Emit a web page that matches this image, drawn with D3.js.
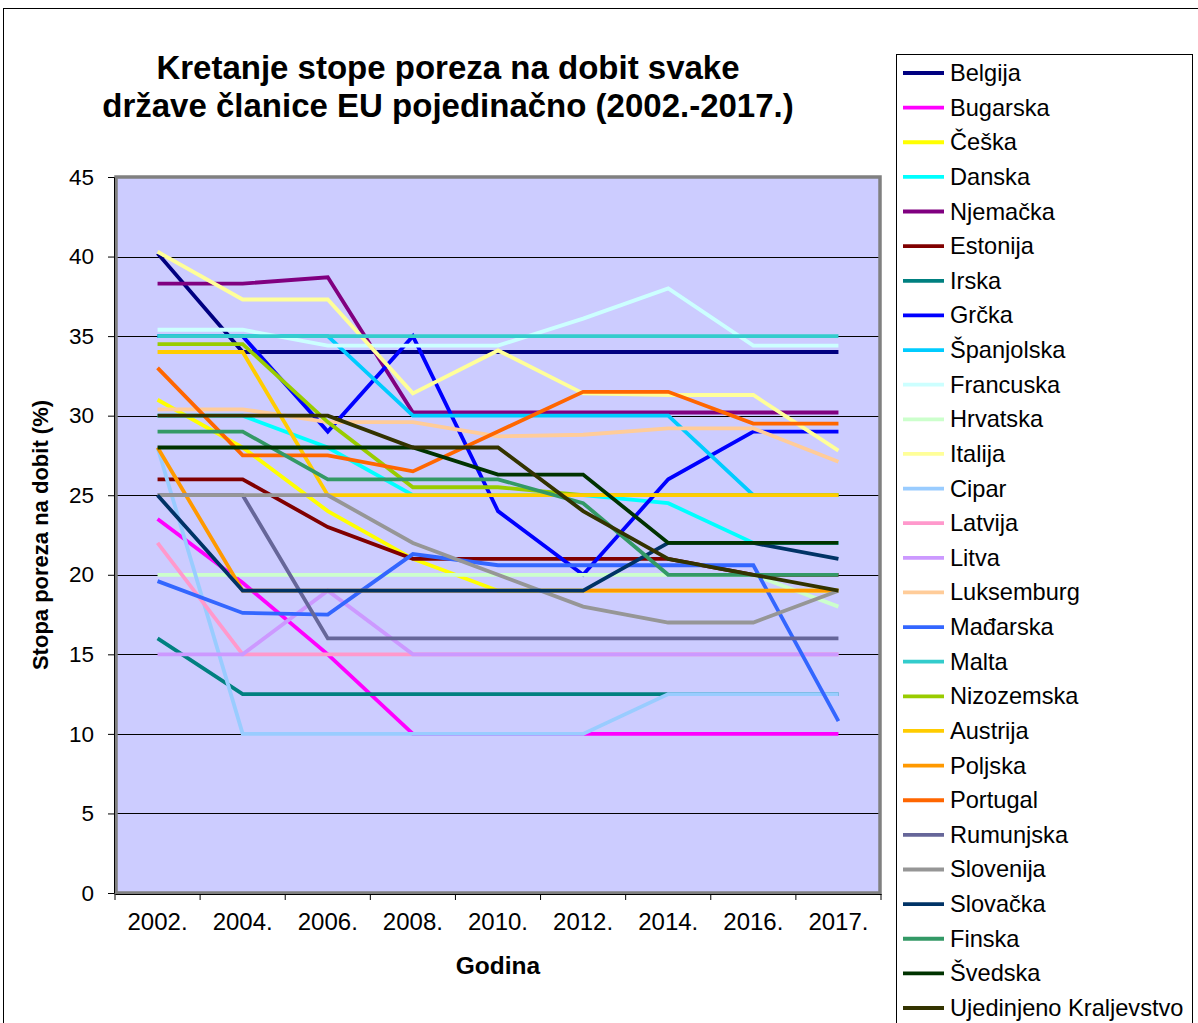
<!DOCTYPE html>
<html>
<head>
<meta charset="utf-8">
<script src="https://cdn.jsdelivr.net/npm/d3@7"></script>
<style>
  body { margin: 0; background: #fff; }
  svg { font-family: "Liberation Sans", Arial, sans-serif; }
</style>
</head>
<body>
<div id="chart"></div>
<script>
const years = ["2002.", "2004.", "2006.", "2008.", "2010.", "2012.", "2014.", "2016.", "2017."];
const yTicks = [0, 5, 10, 15, 20, 25, 30, 35, 40, 45];

const countries = ["Belgija", "Bugarska", "Češka", "Danska", "Njemačka", "Estonija", "Irska", "Grčka",
  "Španjolska", "Francuska", "Hrvatska", "Italija", "Cipar", "Latvija", "Litva", "Luksemburg",
  "Mađarska", "Malta", "Nizozemska", "Austrija", "Poljska", "Portugal", "Rumunjska", "Slovenija",
  "Slovačka", "Finska", "Švedska", "Ujedinjeno Kraljevstvo"];

const colors = ["#000080", "#FF00FF", "#FFFF00", "#00FFFF", "#800080", "#800000", "#008080", "#0000FF",
  "#00CCFF", "#CCFFFF", "#CCFFCC", "#FFFF99", "#99CCFF", "#FF99CC", "#CC99FF", "#FFCC99",
  "#3366FF", "#33CCCC", "#99CC00", "#FFCC00", "#FF9900", "#FF6600", "#666699", "#969696",
  "#003366", "#339966", "#003300", "#333300"];

const belgija = [40.2, 34, 34, 34, 34, 34, 34, 34, 34];
const bugarska = [23.5, 19.5, 15, 10, 10, 10, 10, 10, 10];
const ceska = [31, 28, 24, 21, 19, 19, 19, 19, 19];
const danska = [30, 30, 28, 25, 25, 25, 24.5, 22, 22];
const njemacka = [38.3, 38.3, 38.7, 30.2, 30.2, 30.2, 30.2, 30.2, 30.2];
const estonija = [26, 26, 23, 21, 21, 21, 21, 20, 20];
const irska = [16, 12.5, 12.5, 12.5, 12.5, 12.5, 12.5, 12.5, 12.5];
const grcka = [35, 35, 29, 35, 24, 20, 26, 29, 29];
const spanjolska = [35, 35, 35, 30, 30, 30, 30, 25, 25];
const francuska = [35.4, 35.4, 34.4, 34.4, 34.4, 36.1, 38, 34.4, 34.4];
const hrvatska = [20, 20, 20, 20, 20, 20, 20, 20, 18];
const italija = [40.3, 37.3, 37.3, 31.4, 34.1, 31.4, 31.3, 31.3, 27.8];
const cipar = [28, 10, 10, 10, 10, 10, 12.5, 12.5, 12.5];
const latvija = [22, 15, 15, 15, 15, 15, 15, 15, 15];
const litva = [15, 15, 19, 15, 15, 15, 15, 15, 15];
const luksemburg = [30.4, 30.4, 29.6, 29.6, 28.7, 28.8, 29.2, 29.2, 27.1];
const madjarska = [19.6, 17.6, 17.5, 21.3, 20.6, 20.6, 20.6, 20.6, 10.8];
const malta = [35, 35, 35, 35, 35, 35, 35, 35, 35];
const nizozemska = [34.5, 34.5, 29.6, 25.5, 25.5, 25, 25, 25, 25];
const austrija = [34, 34, 25, 25, 25, 25, 25, 25, 25];
const poljska = [28, 19, 19, 19, 19, 19, 19, 19, 19];
const portugal = [33, 27.5, 27.5, 26.5, 29, 31.5, 31.5, 29.5, 29.5];
const rumunjska = [25, 25, 16, 16, 16, 16, 16, 16, 16];
const slovenija = [25, 25, 25, 22, 20, 18, 17, 17, 19];
const slovacka = [25, 19, 19, 19, 19, 19, 22, 22, 21];
const finska = [29, 29, 26, 26, 26, 24.5, 20, 20, 20];
const svedska = [28, 28, 28, 28, 26.3, 26.3, 22, 22, 22];
const ujedinjeno = [30, 30, 30, 28, 28, 24, 21, 20, 19];

const values = [belgija, bugarska, ceska, danska, njemacka, estonija, irska, grcka,
  spanjolska, francuska, hrvatska, italija, cipar, latvija, litva, luksemburg,
  madjarska, malta, nizozemska, austrija, poljska, portugal, rumunjska, slovenija,
  slovacka, finska, svedska, ujedinjeno];

const series = countries.map((name, i) => ({ name, color: colors[i], values: values[i] }));

const W = 1198, H = 1023;
const plot = { left: 115, right: 881, top: 177, bottom: 893 };

const svg = d3.select("#chart").append("svg")
  .attr("width", W)
  .attr("height", H);

// outer chart border
svg.append("rect")
  .attr("x", 3.5).attr("y", 8.5)
  .attr("width", 1300).attr("height", 1200)
  .attr("fill", "#fff")
  .attr("stroke", "#000")
  .attr("stroke-width", 1);

// title
svg.append("text")
  .attr("x", 448).attr("y", 79)
  .attr("text-anchor", "middle")
  .style("font-size", "33px")
  .style("font-weight", "bold")
  .text("Kretanje stope poreza na dobit svake");
svg.append("text")
  .attr("x", 448).attr("y", 117)
  .attr("text-anchor", "middle")
  .style("font-size", "33px")
  .style("font-weight", "bold")
  .text("države članice EU pojedinačno (2002.-2017.)");

const x = d3.scaleBand()
  .domain(years)
  .range([plot.left, plot.right]);

const y = d3.scaleLinear()
  .domain([0, 45])
  .range([plot.bottom, plot.top]);

// plot background
svg.append("rect")
  .attr("x", plot.left).attr("y", plot.top)
  .attr("width", plot.right - plot.left)
  .attr("height", plot.bottom - plot.top)
  .attr("fill", "#CCCCFF");

// gridlines
svg.append("g")
  .selectAll("line")
  .data(yTicks.filter(d => d > 0 && d < 45))
  .enter()
  .append("line")
  .attr("x1", plot.left).attr("x2", plot.right)
  .attr("y1", d => Math.round(y(d)) + 0.5)
  .attr("y2", d => Math.round(y(d)) + 0.5)
  .attr("stroke", "#000")
  .attr("stroke-width", 1);

// plot border
svg.append("rect")
  .attr("x", plot.left + 1).attr("y", plot.top)
  .attr("width", plot.right - plot.left - 2)
  .attr("height", plot.bottom - plot.top)
  .attr("fill", "none")
  .attr("stroke", "#808080")
  .attr("stroke-width", 3.5);

// lines
const line = d3.line()
  .x((d, i) => x(years[i]) + x.bandwidth() / 2)
  .y(d => y(d));

svg.append("g")
  .selectAll("path")
  .data(series)
  .enter()
  .append("path")
  .attr("d", d => line(d.values))
  .attr("fill", "none")
  .attr("stroke", d => d.color)
  .attr("stroke-width", 3.8)
  .attr("stroke-linejoin", "miter");

// y axis
const yAxis = d3.axisLeft(y)
  .tickValues(yTicks)
  .tickSize(6)
  .tickPadding(14);

const yg = svg.append("g")
  .attr("transform", `translate(${plot.left - 1},0)`)
  .call(yAxis);
yg.selectAll("text").style("font-size", "22.5px").attr("fill", "#000");
yg.selectAll("line").attr("stroke", "#000");
yg.select(".domain").attr("stroke", "#000");

// x axis
const xAxis = d3.axisBottom(x).tickSize(0).tickPadding(19);
const xg = svg.append("g")
  .attr("transform", `translate(0,${plot.bottom + 1})`)
  .call(xAxis);
xg.select(".domain").attr("stroke", "#000");
xg.selectAll("text").style("font-size", "24px").attr("fill", "#000");

// x tick marks between categories
xg.selectAll("line.sep")
  .data(years.concat(["end"]))
  .enter()
  .append("line")
  .attr("class", "sep")
  .attr("x1", (d, i) => i < years.length ? x(d) : plot.right)
  .attr("x2", (d, i) => i < years.length ? x(d) : plot.right)
  .attr("y1", 0).attr("y2", 6)
  .attr("stroke", "#000");

// axis titles
svg.append("text")
  .attr("x", 498).attr("y", 974)
  .attr("text-anchor", "middle")
  .style("font-size", "24.5px")
  .style("font-weight", "bold")
  .text("Godina");

svg.append("text")
  .attr("transform", "translate(48,535) rotate(-90)")
  .attr("text-anchor", "middle")
  .style("font-size", "22px")
  .style("font-weight", "bold")
  .text("Stopa poreza na dobit (%)");

// legend
const legend = svg.append("g");
legend.append("rect")
  .attr("x", 896.5).attr("y", 54.5)
  .attr("width", 296).attr("height", 1000)
  .attr("fill", "#fff")
  .attr("stroke", "#000");

const item = legend.selectAll("g.item")
  .data(series)
  .enter()
  .append("g")
  .attr("class", "item")
  .attr("transform", (d, i) => `translate(0,${73 + i * 34.63})`);

item.append("line")
  .attr("x1", 903).attr("x2", 944)
  .attr("y1", 0).attr("y2", 0)
  .attr("stroke", d => d.color)
  .attr("stroke-width", 3.8);

item.append("text")
  .attr("x", 950)
  .attr("y", 8)
  .style("font-size", "23.6px")
  .text(d => d.name);
</script>
</body>
</html>
